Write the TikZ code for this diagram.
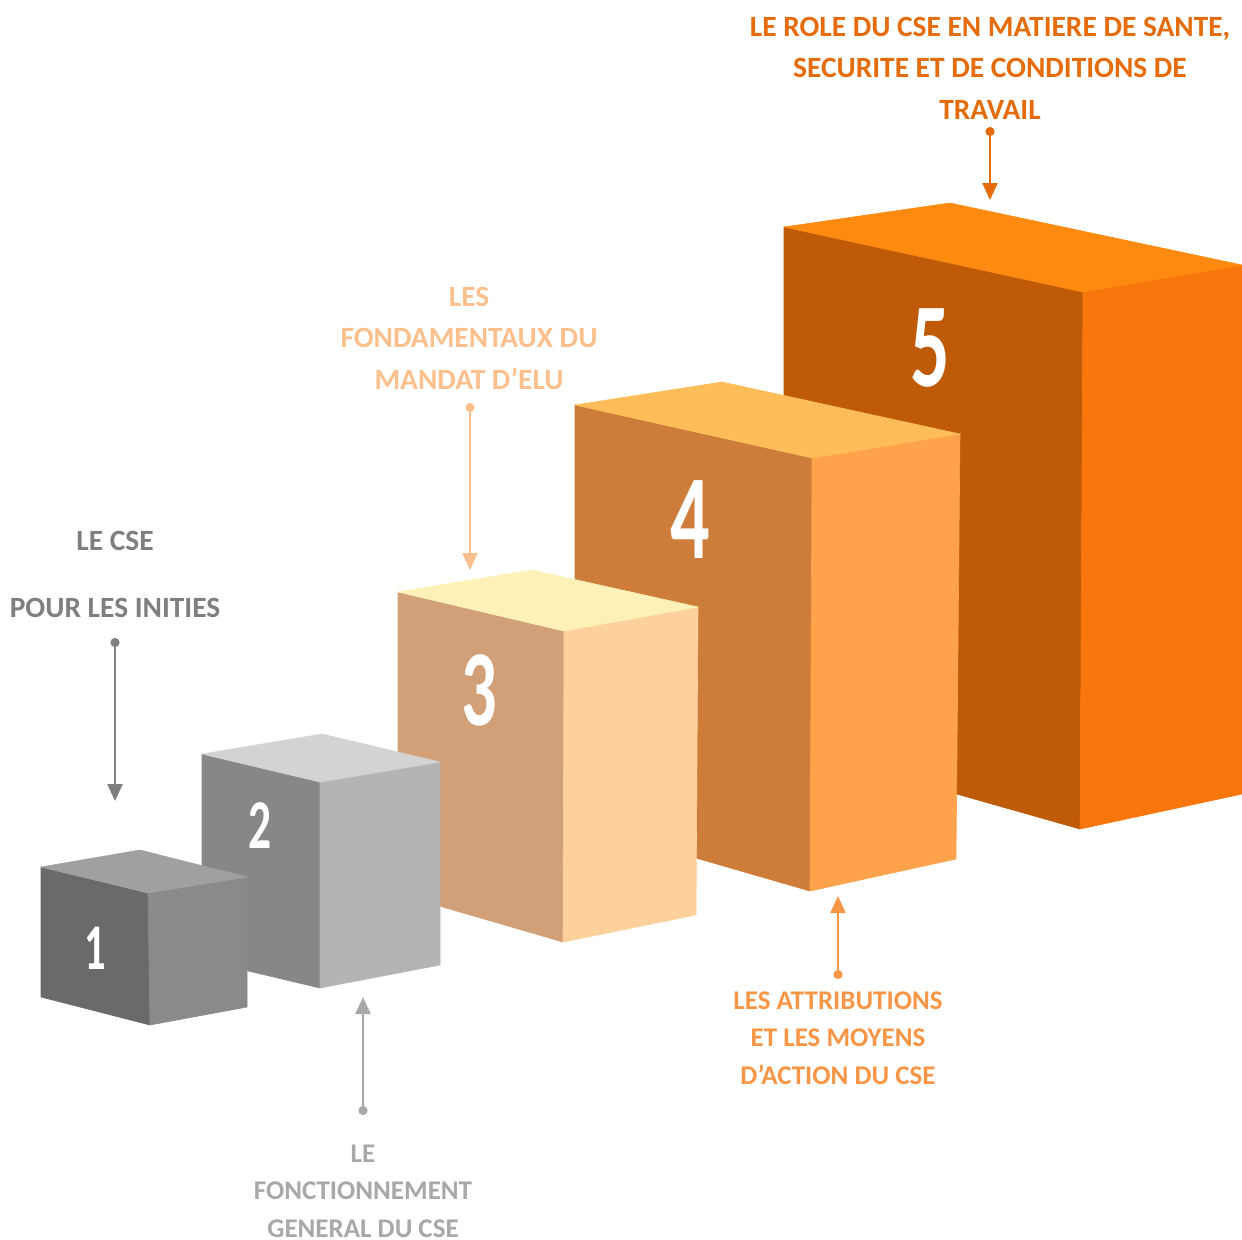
\documentclass[tikz,border=0pt]{standalone}
\usepackage{fontspec}
\setmainfont{Carlito}
\usetikzlibrary{arrows.meta}
\definecolor{aT}{HTML}{A0A0A0}\definecolor{aL}{HTML}{6A6A6A}\definecolor{aR}{HTML}{8A8A8A}
\definecolor{bT}{HTML}{D3D3D3}\definecolor{bL}{HTML}{878787}\definecolor{bR}{HTML}{B4B4B4}
\definecolor{cT}{HTML}{FEF1B7}\definecolor{cL}{HTML}{D2A078}\definecolor{cR}{HTML}{FDD19C}
\definecolor{dT}{HTML}{FFBD59}\definecolor{dL}{HTML}{CD7D39}\definecolor{dR}{HTML}{FEA24B}
\definecolor{eT}{HTML}{FF8A10}\definecolor{eL}{HTML}{BF5A07}\definecolor{eR}{HTML}{F8760C}
\definecolor{txA}{HTML}{7F7F7F}\definecolor{txB}{HTML}{A8A8A8}
\definecolor{txC}{HTML}{FBC08D}\definecolor{txD}{HTML}{F79646}\definecolor{txE}{HTML}{E46C0A}
\begin{document}
\begin{tikzpicture}[x=0.5pt,y=-0.5pt,
  face/.style={fill=#1,draw=#1,line width=0.3pt,line join=round},
  lbl/.style={font=\bfseries\fontsize{14.7}{20.75}\selectfont, align=center, inner sep=0pt},
  lblb/.style={font=\bfseries\fontsize{13.5}{18.75}\selectfont, align=center, inner sep=0pt},
  pointer/.style={line width=1.2pt, {Circle[length=4.5pt]}-{Triangle[width=7.5pt,length=8.5pt]}},
  num/.style={text=white, inner sep=0pt}]
\useasboundingbox (0,0) rectangle (1242,1239);
% box 5
\fill[face=eL] (784,227) -- (1083,292) -- (1080,829) -- (784,745) -- cycle;
\fill[face=eR] (1083,292) -- (1242,265) -- (1242,794) -- (1080,829) -- cycle;
\fill[face=eT] (784,227) -- (950,203) -- (1242,265) -- (1083,292) -- cycle;
\node[num,font=\bfseries\fontsize{60}{60}\selectfont] (n5) at (930,348) {\scalebox{0.65}[1]{5}};
% box 4
\fill[face=dL] (575,405) -- (812,458) -- (810,891) -- (575,823) -- cycle;
\fill[face=dR] (812,458) -- (960,434) -- (956,859) -- (810,891) -- cycle;
\fill[face=dT] (575,405) -- (722,382) -- (960,434) -- (812,458) -- cycle;
\node[num,font=\bfseries\fontsize{60}{60}\selectfont] (n4) at (690,520) {\scalebox{0.65}[1]{4}};
% box 3
\fill[face=cL] (398,592) -- (564,631) -- (563,942) -- (398,894) -- cycle;
\fill[face=cR] (564,631) -- (698,607) -- (696,915) -- (563,942) -- cycle;
\fill[face=cT] (398,592) -- (532,570) -- (698,607) -- (564,631) -- cycle;
\node[num,font=\bfseries\fontsize{54}{54}\selectfont] (n3) at (479,690) {\scalebox{0.65}[1]{3}};
% box 2
\fill[face=bL] (202,754) -- (320,782) -- (320,988) -- (202,960) -- cycle;
\fill[face=bR] (320,782) -- (440,762) -- (440,965) -- (320,988) -- cycle;
\fill[face=bT] (202,754) -- (322,734) -- (440,762) -- (320,782) -- cycle;
\node[num,font=\bfseries\fontsize{35}{35}\selectfont] (n2) at (260,826) {\scalebox{0.65}[1]{2}};
% box 1
\fill[face=aL] (41,867) -- (148,893) -- (150,1025) -- (41,997) -- cycle;
\fill[face=aR] (148,893) -- (247,877) -- (247,1007) -- (150,1025) -- cycle;
\fill[face=aT] (41,867) -- (140,850) -- (247,877) -- (148,893) -- cycle;
\node[num,font=\bfseries\fontsize{32.6}{32.6}\selectfont] (n1) at (95,948) {\scalebox{0.65}[1]{1}};
% labels
\node[lbl,text=txE] (l5) at (990,68) {LE ROLE DU CSE EN MATIERE DE SANTE,\\SECURITE ET DE CONDITIONS DE\\TRAVAIL};
\node[lbl,text=txC] (l3) at (469,338) {LES\\FONDAMENTAUX DU\\MANDAT D’ELU};
\node[lbl,text=txA] (l1a) at (115,541) {LE CSE};
\node[lbl,text=txA] (l1b) at (115,608) {POUR LES INITIES};
\node[lblb,text=txB] (l2) at (363,1191) {LE\\FONCTIONNEMENT\\GENERAL DU CSE};
\node[lblb,text=txD] (l4) at (838,1038) {LES ATTRIBUTIONS\\ET LES MOYENS\\D’ACTION DU CSE};
% pointers
\coordinate (s5) at (990,127); \coordinate (e5) at (990,200);
\coordinate (s3) at (470,403); \coordinate (e3) at (470,570);
\coordinate (s1) at (115,638); \coordinate (e1) at (115,801);
\coordinate (s2) at (363,1115); \coordinate (e2) at (363,997);
\coordinate (s4) at (838,979); \coordinate (e4) at (838,896);
\draw[pointer,txE] (s5) -- (e5);
\draw[pointer,txC] (s3) -- (e3);
\draw[pointer,txA] (s1) -- (e1);
\draw[pointer,txB] (s2) -- (e2);
\draw[pointer,txD] (s4) -- (e4);
\end{tikzpicture}
\end{document}
